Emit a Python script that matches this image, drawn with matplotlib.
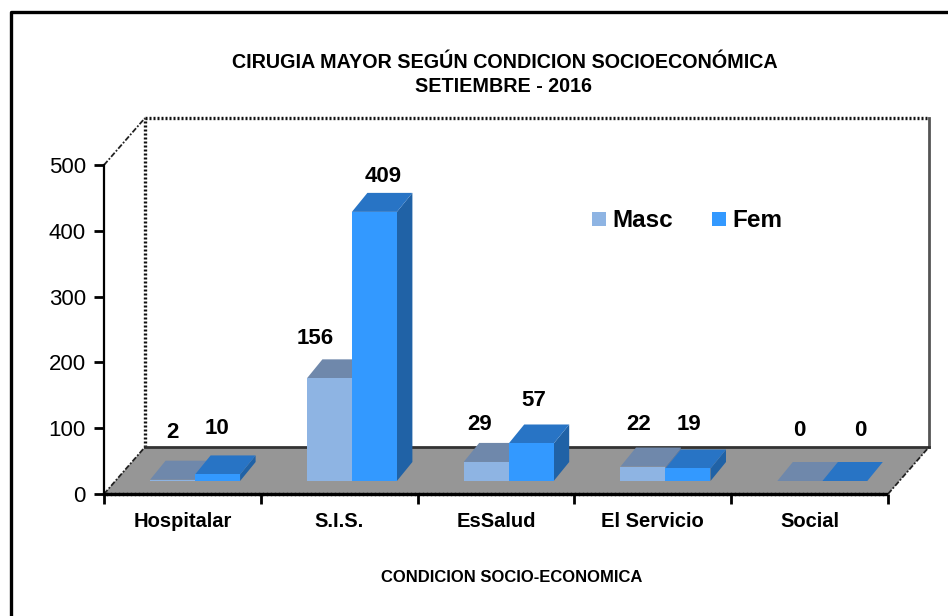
import matplotlib
matplotlib.use("Agg")
import matplotlib.pyplot as plt
from matplotlib.patches import Polygon, Rectangle
from matplotlib.lines import Line2D

plt.rcParams['font.family'] = ['Liberation Sans', 'DejaVu Sans']

categories = ["Hospitalar", "S.I.S.", "EsSalud", "El Servicio", "Social"]
masc = [2, 156, 29, 22, 0]
fem = [10, 409, 57, 19, 0]
y_ticks = [0, 100, 200, 300, 400, 500]

W, H = 948, 616
fig = plt.figure(figsize=(W / 100, H / 100), dpi=100, facecolor="white")
ax = fig.add_axes([104 / W, 1 - 494 / H, 784 / W, 329 / H])
ax.set_xlim(0, 5)
ax.set_ylim(0, 500)
ax.patch.set_visible(False)

# pseudo-3D projection, in data units
DX, DY = 41 / 156.8, 47 / 0.658
BAR_W = 45 / 156.8
BAR_DX, BAR_DY = 15.5 / 156.8, 19 / 0.658
BASE = 13 / 0.658
START = 0.294

FLOOR = "#969696"
C = {"masc": ("#8EB4E3", "#6F88AB", "#5F7CA3"), "fem": ("#3399FF", "#2874C5", "#2062A6")}


def poly(pts, color, z):
    ax.add_patch(Polygon(pts, closed=True, facecolor=color, edgecolor="none",
                         clip_on=False, zorder=z))


def line(xs, ys, z=1, **kw):
    ax.add_line(Line2D(xs, ys, clip_on=False, zorder=z, **kw))


def bar(x0, v, cols, z):
    x1 = x0 + BAR_W
    top = BASE + v
    if v > 0:
        poly([(x0, BASE), (x1, BASE), (x1, top), (x0, top)], cols[0], z + 0.2)
    poly([(x0, top), (x1, top), (x1 + BAR_DX, top + BAR_DY), (x0 + BAR_DX, top + BAR_DY)], cols[1], z + 0.1)
    if v > 0:
        poly([(x1, BASE), (x1 + BAR_DX, BASE + BAR_DY), (x1 + BAR_DX, top + BAR_DY), (x1, top)], cols[2], z)


# floor and walls
poly([(0, 0), (5, 0), (5 + DX, DY), (DX, DY)], FLOOR, 1)
dot = dict(color="#111111", lw=2.4, linestyle=(0, (0.6, 0.6)))
line([DX, DX], [DY, 500 + DY], **dot)
line([DX, 5 + DX], [500 + DY, 500 + DY], **dot)
line([DX, 5 + DX], [DY, DY], z=1.5, color="#333333", lw=2)
line([5 + DX, 5 + DX], [DY, 500 + DY], color="#555555", lw=2)
diag = dict(color="#222222", lw=1.3, linestyle=(0, (3, 1, 1, 1)))
line([0, DX], [500, 500 + DY], **diag)
line([0, DX], [0, DY], z=2, **diag)
line([5, 5 + DX], [0, DY], z=2, **diag)

for i in range(len(categories)):
    bar(i + START, masc[i], C["masc"], 3 + i)
    bar(i + START + BAR_W, fem[i], C["fem"], 3.5 + i)

# axes
for s in ("top", "right"):
    ax.spines[s].set_visible(False)
ax.spines["left"].set_linewidth(1.6)
ax.spines["bottom"].set_linewidth(2.4)
ax.spines["bottom"].set_linestyle((0, (0.6, 0.6)))
ax.spines["left"].set_zorder(20)
ax.spines["bottom"].set_zorder(20)
ax.set_yticks(y_ticks)
ax.tick_params(axis="y", length=7, width=2, pad=6, labelsize=16)
ax.set_xticks(range(len(categories) + 1))
ax.set_xticklabels([])
ax.tick_params(axis="x", which="major", length=7, width=2)
ax.set_xticks([i + 0.5 for i in range(len(categories))], minor=True)
ax.set_xticklabels(categories, minor=True, fontsize=14.5, fontweight="bold")
ax.tick_params(axis="x", which="minor", length=0, pad=13)


def T(px, py, s, **kw):
    fig.text(px / W, 1 - py / H, s, ha=kw.pop("ha", "center"), va="center", **kw)


T(505, 63, "CIRUGIA MAYOR SEGÚN CONDICION SOCIOECONÓMICA", fontsize=14.2, fontweight="bold")
T(504, 87, "SETIEMBRE - 2016", fontsize=14.2, fontweight="bold")
T(512, 577, "CONDICION SOCIO-ECONOMICA", fontsize=12, fontweight="bold")

label_px = [(172, 432), (217, 428), (315, 339), (383, 176), (480, 425), (534, 400),
            (639, 425), (689, 425), (799, 431), (860, 431)]
label_vals = [v for pair in zip(masc, fem) for v in pair]
for (px, py), v in zip(label_px, label_vals):
    T(px, py, str(v), fontsize=16, fontweight="bold")

# legend
for x0, col, name in ((592, C["masc"][0], "Masc"), (712, C["fem"][0], "Fem")):
    fig.patches.append(Rectangle((x0 / W, 1 - 226 / H), 14 / W, 14 / H, transform=fig.transFigure,
                                 facecolor=col, edgecolor="none"))
    T(x0 + 20, 220, name, ha="left", fontsize=17.5, fontweight="bold")

# outer border (open to the right and bottom edges)
fig.add_artist(Line2D([11 / W, 11 / W, 1], [0, 1 - 12 / H, 1 - 12 / H], transform=fig.transFigure,
                      color="black", lw=2.4))

fig.savefig("out.png", dpi=100)
